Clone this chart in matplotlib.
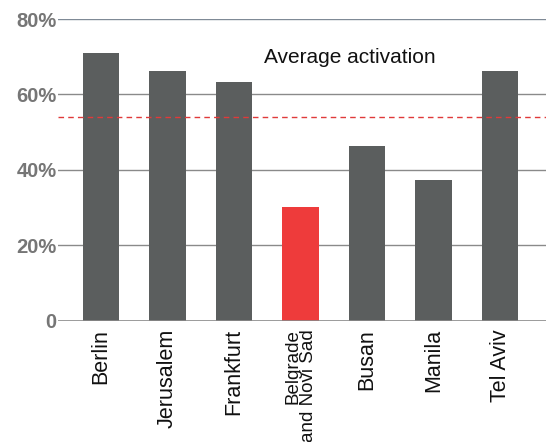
import matplotlib
matplotlib.use("Agg")
import matplotlib.pyplot as plt

cities = ["Berlin", "Jerusalem", "Frankfurt", "Belgrade\nand Novi Sad", "Busan", "Manila", "Tel Aviv"]
activation = [71.0, 66.2, 63.3, 30.2, 46.4, 37.3, 66.2]
highlight = "Belgrade\nand Novi Sad"
average = 54.0
yticks = [0, 20, 40, 60, 80]
ytick_labels = ["0", "20%", "40%", "60%", "80%"]

plt.rcParams["font.family"] = ["Liberation Sans", "DejaVu Sans"]

fig = plt.figure(figsize=(5.46, 4.42), dpi=100)
ax = fig.add_axes([0.106, 0.274, 0.894, 0.683])

colors = ["#ee3b3b" if c == highlight else "#5b5e5e" for c in cities]
x = list(range(len(cities)))

for y in yticks[1:]:
    ax.axhline(y, color="#7f8a96" if y == 80 else "#8a8a8a", lw=1.0, zorder=0)
ax.axhline(0, color="#8a8a8a", lw=1.2, zorder=3)

ax.bar(x, activation, width=0.55, color=colors, zorder=2)
ax.axhline(average, color="#e03a3a", lw=1.0, ls=(0, (4, 3)), zorder=4)

ax.text(3.74, 69.9, "Average activation", fontsize=15, color="#111111", ha="center", va="center")

ax.set_xlim(-0.65, 6.69)
ax.set_ylim(0, 80)
ax.set_yticks(yticks)
ax.set_yticklabels(ytick_labels, fontsize=14.5, fontweight="bold", color="#767676")
ax.set_xticks(x)
labels = ax.set_xticklabels(cities, rotation=90, fontsize=15.5, color="#111111", linespacing=0.85)
for lab in labels:
    if lab.get_text() == highlight:
        lab.set_fontsize(13.5)
        lab.set_multialignment("right")
ax.tick_params(axis="both", length=0)
ax.tick_params(axis="y", pad=1)
ax.tick_params(axis="x", pad=6)
for s in ax.spines.values():
    s.set_visible(False)

fig.savefig("out.png", dpi=100)
